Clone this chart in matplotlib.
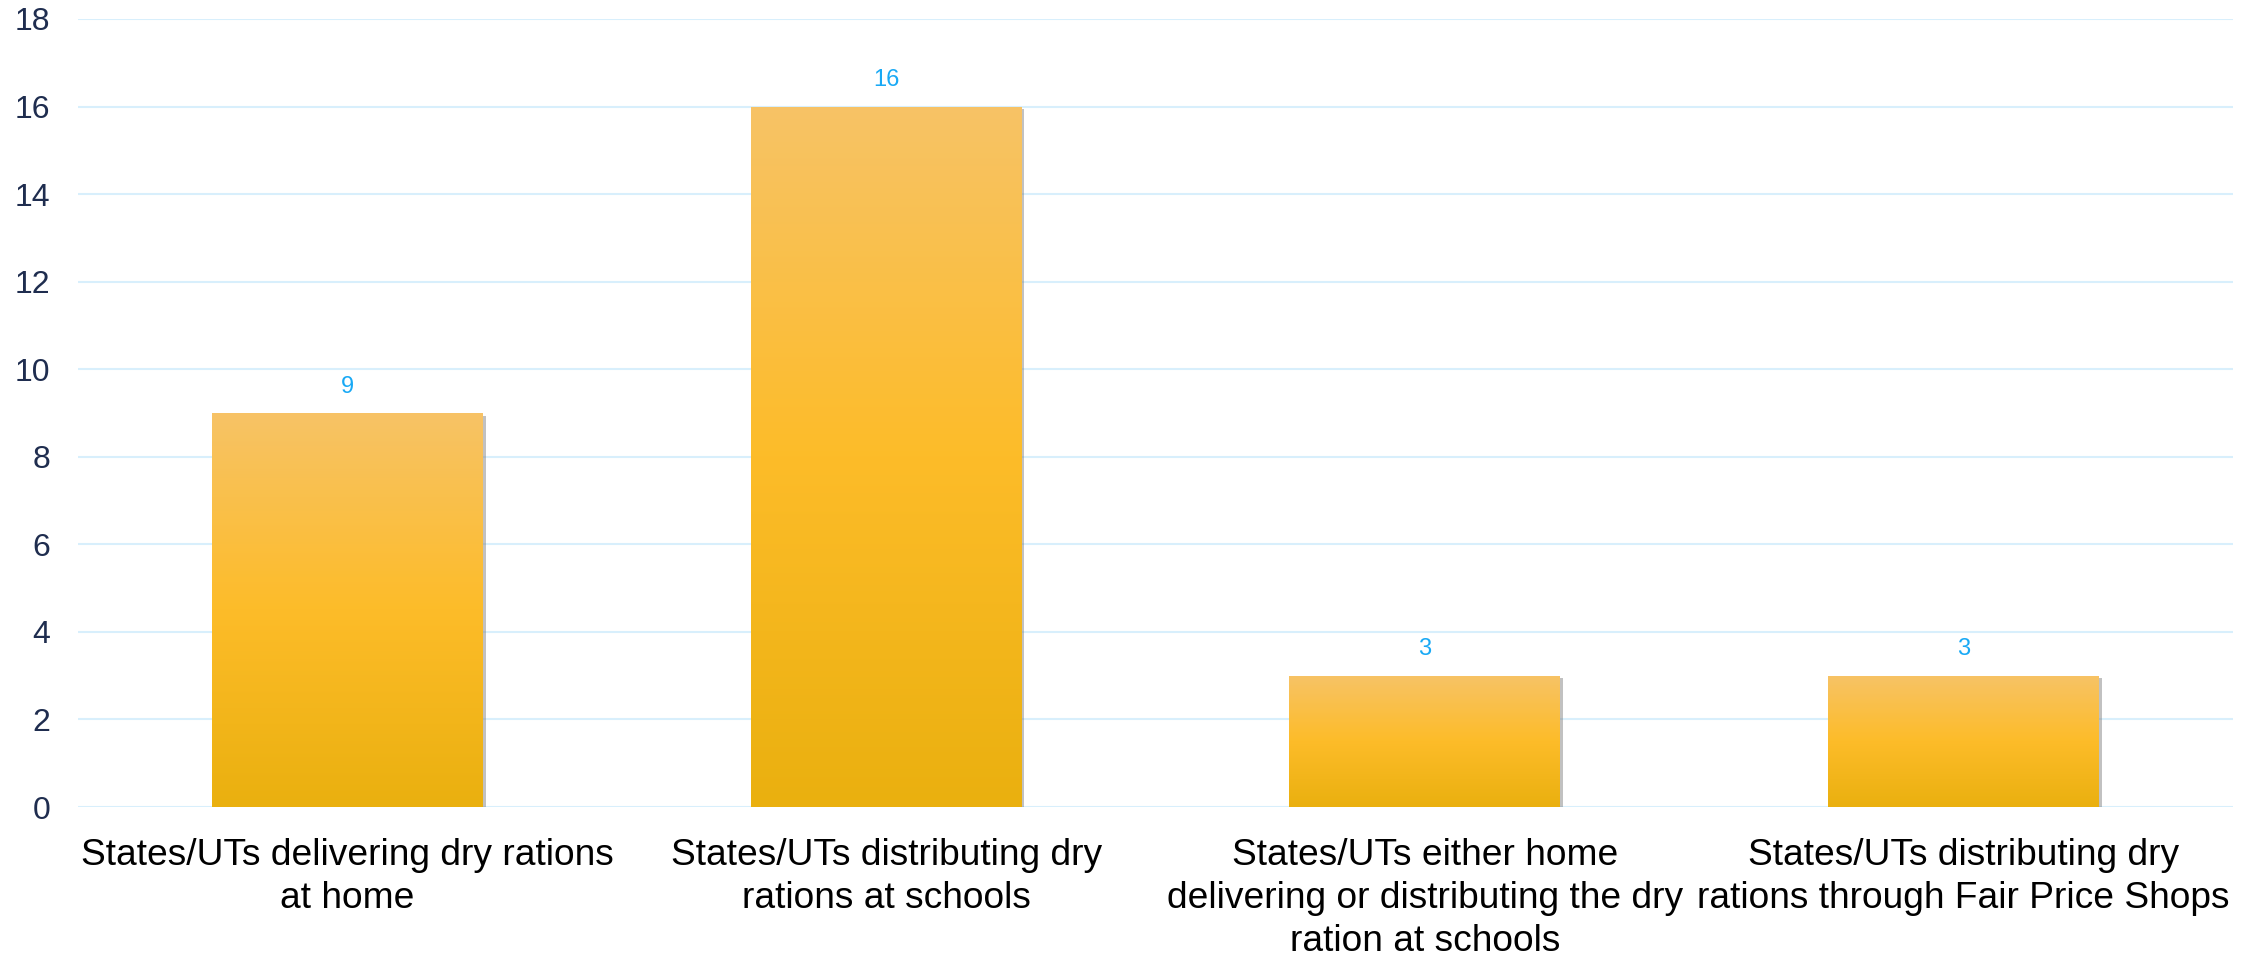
import matplotlib
matplotlib.use("Agg")
import matplotlib.pyplot as plt
import matplotlib.patheffects as pe
from matplotlib.colors import LinearSegmentedColormap
import numpy as np

categories = [
    "States/UTs delivering dry rations\nat home",
    "States/UTs distributing dry\nrations at schools",
    "States/UTs either home\ndelivering or distributing the dry\nration at schools",
    "States/UTs distributing dry\nrations through Fair Price Shops",
]
values = [9, 16, 3, 3]
yticks = [0, 2, 4, 6, 8, 10, 12, 14, 16, 18]

plt.rcParams['font.family'] = ['Liberation Sans', 'DejaVu Sans']

fig = plt.figure(figsize=(22.61, 9.58), dpi=100)
ax = fig.add_axes([0.0345, 0.1576, 0.9531, 0.8226])

x = np.arange(len(values))
bars = ax.bar(x, values, width=0.503, color="#FBBB2A", zorder=3,
              path_effects=[pe.SimplePatchShadow(offset=(2, -2), shadow_rgbFace="#777777", alpha=0.45),
                            pe.Normal()])

# vertical gradient on each bar
cmap = LinearSegmentedColormap.from_list("bar", [(0.0, "#EAB00F"), (0.5, "#FDBC29"), (1.0, "#F7C366")])
grad = np.linspace(0, 1, 256).reshape(-1, 1)
for b in bars:
    x0, w, h = b.get_x(), b.get_width(), b.get_height()
    im = ax.imshow(grad, cmap=cmap, origin="lower", aspect="auto",
                   extent=[x0, x0 + w, 0, h], zorder=4)
    im.set_clip_path(b)

for xi, v in zip(x, values):
    ax.annotate(str(v), (xi, v), xytext=(0, 19), textcoords="offset points",
                ha="center", va="center", fontsize=17, color="#19A9F5", zorder=5)

ax.set_xlim(-0.5, len(values) - 0.5)
ax.set_ylim(0, 18)
ax.set_yticks(yticks)
ax.set_yticklabels([str(t) for t in yticks], fontsize=23, color="#1F2D4F")
ax.set_xticks(x)
ax.set_xticklabels(categories, fontsize=26.7, color="black", linespacing=1.3)
ax.tick_params(axis="both", length=0)
ax.tick_params(axis="y", pad=20)
ax.tick_params(axis="x", pad=22)
ax.grid(axis="y", color="#D8EFFC", linewidth=1.5, zorder=0)
ax.set_axisbelow(True)
for s in ax.spines.values():
    s.set_visible(False)

fig.savefig("out.png", dpi=100)
